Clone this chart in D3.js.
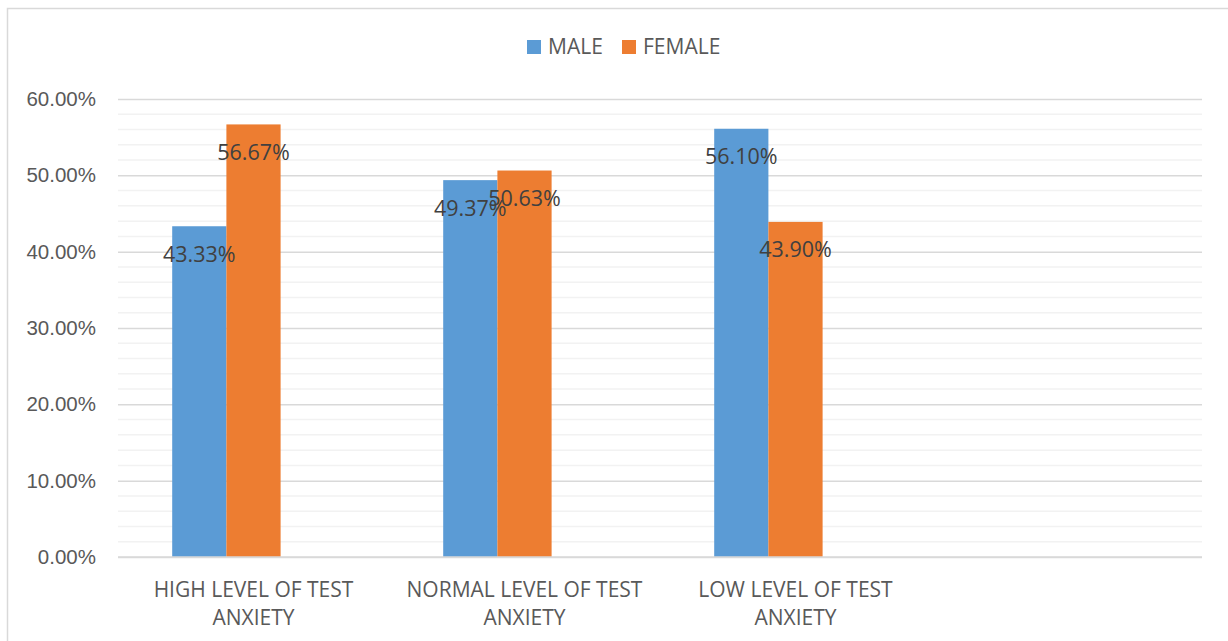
<!DOCTYPE html>
<html>
<head>
<meta charset="utf-8">
<script src="https://cdn.jsdelivr.net/npm/d3@7"></script>
<style>
  html, body { margin: 0; padding: 0; background: #fff; }
  svg { display: block; font-family: "Liberation Sans Narrow", "Arial Narrow", "Open Sans", sans-serif; }
</style>
</head>
<body>
<svg id="chart" width="1228" height="641"></svg>
<script>
// Test-anxiety levels by gender (share of each level)
const categories = [
  ["HIGH LEVEL OF TEST", "ANXIETY"],
  ["NORMAL LEVEL OF TEST", "ANXIETY"],
  ["LOW LEVEL OF TEST", "ANXIETY"],
  [""]
];
const seriesNames = ["MALE", "FEMALE"];
const maleValues = [0.4333, 0.4937, 0.5610, null];
const femaleValues = [0.5667, 0.5063, 0.4390, null];
const yTicks = [0, 0.1, 0.2, 0.3, 0.4, 0.5, 0.6];
const colors = ["#5B9BD5", "#ED7D31"];

const svg = d3.select("#chart");
const W = 1228, H = 641;
const plot = { left: 118, right: 1202, top: 99, bottom: 557 };

// outer chart frame
svg.append("rect")
  .attr("x", 7.5).attr("y", 8.5)
  .attr("width", W + 20).attr("height", H + 20)
  .attr("fill", "#fff").attr("stroke", "#D9D9D9").attr("stroke-width", 1.5);

const catKeys = categories.map((c, i) => i);
const x0 = d3.scaleBand().domain(catKeys).range([plot.left, plot.right]).padding(0);
// three slots per category (gap width 200%); the third slot is unused
const x1 = d3.scaleBand().domain([0, 1, 2])
  .range([x0.bandwidth() * 0.2, x0.bandwidth() * 0.8]).padding(0);
const y = d3.scaleLinear().domain([0, 0.6]).range([plot.bottom, plot.top]);

// minor gridlines every 2%
const minor = d3.range(0.02, 0.6, 0.02).filter(v => Math.abs(Math.round(v * 10) - v * 10) > 1e-6);
svg.append("g").selectAll("line").data(minor).join("line")
  .attr("x1", plot.left).attr("x2", plot.right)
  .attr("y1", d => y(d)).attr("y2", d => y(d))
  .attr("stroke", "#F2F2F2").attr("stroke-width", 1.5);

// major gridlines + labels via axis
const yAxis = d3.axisLeft(y).tickValues(yTicks)
  .tickSize(-(plot.right - plot.left))
  .tickPadding(22)
  .tickFormat(d => (d * 100).toFixed(2) + "%");
const gy = svg.append("g").attr("transform", `translate(${plot.left},0)`).call(yAxis);
gy.select(".domain").remove();
gy.selectAll(".tick line").attr("stroke", "#D9D9D9").attr("stroke-width", 1.5);
gy.selectAll(".tick text")
  .attr("fill", "#595959").attr("font-size", 20.5)
  .attr("font-family", "inherit");

// bars
const seriesData = [maleValues, femaleValues];
seriesData.forEach((vals, s) => {
  const g = svg.append("g");
  const rows = vals.map((v, i) => ({ i, v })).filter(d => d.v != null);
  g.selectAll("rect").data(rows).join("rect")
    .attr("x", d => x0(d.i) + x1(s))
    .attr("width", x1.bandwidth())
    .attr("y", d => y(d.v))
    .attr("height", d => y(0) - y(d.v))
    .attr("fill", colors[s]);
});

// data labels (inside end)
seriesData.forEach((vals, s) => {
  const rows = vals.map((v, i) => ({ i, v })).filter(d => d.v != null);
  svg.append("g").selectAll("text").data(rows).join("text")
    .attr("x", d => x0(d.i) + x1(s) + x1.bandwidth() / 2)
    .attr("y", d => y(d.v) + 35.5)
    .attr("text-anchor", "middle")
    .attr("fill", "#404040").attr("font-size", 21.5)
    .text(d => (d.v * 100).toFixed(2) + "%");
});

// x axis baseline and category labels
svg.append("line")
  .attr("x1", plot.left).attr("x2", plot.right)
  .attr("y1", y(0)).attr("y2", y(0))
  .attr("stroke", "#D9D9D9").attr("stroke-width", 1.5);
const gx = svg.append("g");
categories.forEach((lines, i) => {
  const t = gx.append("text")
    .attr("x", x0(i) + x0.bandwidth() / 2)
    .attr("y", 597)
    .attr("text-anchor", "middle")
    .attr("fill", "#595959").attr("font-size", 21);
  lines.forEach((ln, k) => {
    t.append("tspan")
      .attr("x", x0(i) + x0.bandwidth() / 2)
      .attr("dy", k === 0 ? 0 : 28)
      .text(ln);
  });
});

// legend
const legendX = [527, 622];
const lg = svg.append("g");
seriesNames.forEach((name, s) => {
  lg.append("rect").attr("x", legendX[s]).attr("y", 40)
    .attr("width", 14).attr("height", 14).attr("fill", colors[s]);
  lg.append("text").attr("x", legendX[s] + 21).attr("y", 54)
    .attr("fill", "#595959").attr("font-size", 21).text(name);
});
</script>
</body>
</html>
